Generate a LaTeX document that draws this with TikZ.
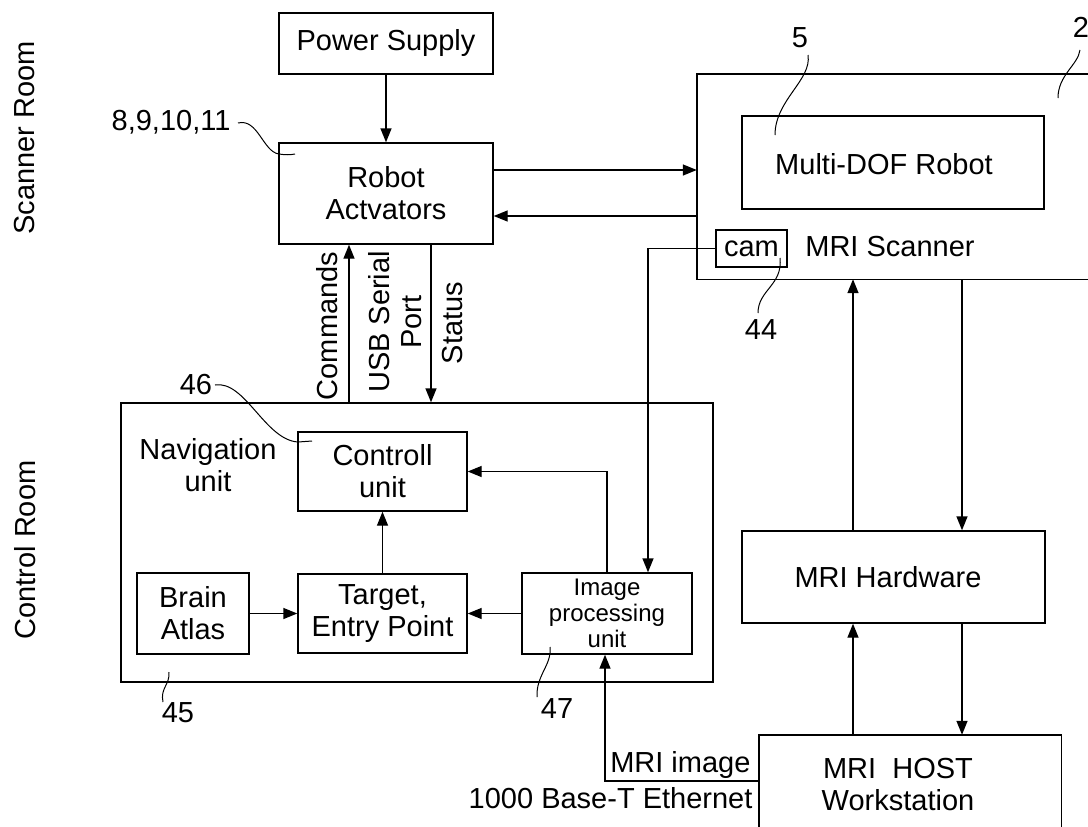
\documentclass[tikz,border=0pt]{standalone}
\usepackage{fontspec}
\setmainfont{Liberation Sans}
\usetikzlibrary{arrows.meta}
\begin{document}
\begin{tikzpicture}[x=1pt,y=-1pt,
  every node/.style={font=\fontsize{29pt}{32pt}\selectfont},
  blk/.style={draw, line width=1.4pt, align=center, inner sep=0pt},
  ghost/.style={draw=none, inner sep=0pt},
  arr/.style={line width=1.4pt, -{Triangle[length=14pt,width=11pt]}},
  ln/.style={line width=1.4pt},
  lead/.style={line width=1pt},
  small/.style={font=\fontsize{24pt}{26pt}\selectfont}
]
\useasboundingbox (0,0) rectangle (1088,827);
% boxes
\node[blk, minimum width=214pt, minimum height=61pt] (ps) at (386,43.5) {Power Supply};
\node[blk, minimum width=214pt, minimum height=101pt] (robot) at (386,193.5) {Robot\\Actvators};
\node[ghost, minimum width=391pt, minimum height=205pt] (scan) at (892.5,176.5) {};
\draw[ln] (scan.north east) -- (scan.north west) -- (scan.south west) -- (scan.south east);
\node[blk, minimum width=302pt, minimum height=93pt] (mdof) at (893,162.5) {};
\node (mdoftext) at (884,164) {Multi-DOF Robot};
\node[blk, minimum width=71pt, minimum height=37pt] (cam) at (751.5,248.5) {cam};
\node (scantext) at (890,247) {MRI Scanner};
\node[blk, minimum width=592pt, minimum height=279pt] (ctrl) at (417,542.5) {};
\node[align=center] (navtext) at (208,465) {Navigation\\unit};
\node[blk, minimum width=169pt, minimum height=79pt] (cu) at (382.5,471.5) {Controll\\unit};
\node[blk, minimum width=112pt, minimum height=81pt] (brain) at (193,613.5) {Brain\\Atlas};
\node[blk, minimum width=169pt, minimum height=79pt] (tgt) at (382.5,613.5) {Target,\\Entry Point};
\node[blk, small, minimum width=170pt, minimum height=81pt] (imgp) at (607,613.5) {Image\\processing\\unit};
\node[blk, minimum width=303pt, minimum height=92pt] (hw) at (893.5,577) {};
\node (hwtext) at (888,577) {MRI Hardware};
\node[ghost, minimum width=302pt, minimum height=92pt] (host) at (910,781) {};
\draw[ln] (host.south west) -- (host.north west) -- (host.north east) -- (host.south east);
\node[align=center] (hosttext) at (898,785) {MRI\ \ HOST\\Workstation};
% room labels
\node[rotate=90] (sroom) at (25,138) {Scanner Room};
\node[rotate=90] (croom) at (25,550) {Control Room};
% connectors
\draw[arr] (ps.south) -- (robot.north);
\draw[arr] ([yshift=23.5pt]robot.east) -- ([yshift=23.5pt]robot.east -| scan.west);
\draw[arr] ([yshift=-22.5pt]robot.east -| scan.west) -- ([yshift=-22.5pt]robot.east);
\draw[arr] (cam.west) -| ([xshift=41pt]imgp.north);
\draw[arr] ([xshift=-37pt]robot.south |- ctrl.north) -- ([xshift=-37pt]robot.south);
\draw[arr] ([xshift=45pt]robot.south) -- ([xshift=45pt]robot.south |- ctrl.north);
\draw[arr] (tgt.north) -- (cu.south);
\draw[arr] (brain.east) -- (tgt.west);
\draw[arr] (imgp.west) -- (tgt.east);
\draw[arr] (imgp.north) |- (cu.east);
\draw[arr] ([xshift=-40.5pt]hw.north) -- ([xshift=-40.5pt]hw.north |- scan.south);
\draw[arr] ([xshift=68.5pt]hw.north |- scan.south) -- ([xshift=68.5pt]hw.north);
\draw[arr] ([xshift=-40.5pt]hw.south |- host.north) -- ([xshift=-40.5pt]hw.south);
\draw[arr] ([xshift=68.5pt]hw.south) -- ([xshift=68.5pt]hw.south |- host.north);
\draw[arr] (host.west) -| ([xshift=-2pt]imgp.south);
% connector labels
\node[rotate=90] (cmdl) at (327,326) {Commands};
\node[rotate=90, align=center] (usbl) at (395,322) {USB Serial\\Port};
\node[rotate=90] (statl) at (453,323) {Status};
\node[anchor=east] (mril) at (754,765) {MRI image};
\node[anchor=east] (ethl) at (756,798) {1000 Base-T Ethernet};
% reference numbers
\node (n5) at (800,38) {5};
\node (n2) at (1081,27) {2};
\node[anchor=east] (n8) at (234,122) {8,9,10,11};
\node (n46) at (196,385) {46};
\node (n45) at (178,713) {45};
\node (n47) at (557,709) {47};
\node (n44) at (761,330) {44};
% leaders
\draw[lead] (808,55) .. controls (812,80) and (775,100) .. (775,135);
\draw[lead] (1080,50) .. controls (1078,65) and (1058,75) .. (1058,98);
\draw[lead] (780,258) .. controls (783,285) and (758,290) .. (758,313);
\draw[lead] (238,123) .. controls (258,118) and (263,152) .. (279,154) .. controls (285,155) and (290,155) .. (295,154);
\draw[lead] (215,385) .. controls (245,380) and (265,440) .. (298,442) -- (312,441);
\draw[lead] (169,672) .. controls (170,685) and (160,688) .. (163,702);
\draw[lead] (550,647) .. controls (552,665) and (536,675) .. (537,697);
\end{tikzpicture}
\end{document}
